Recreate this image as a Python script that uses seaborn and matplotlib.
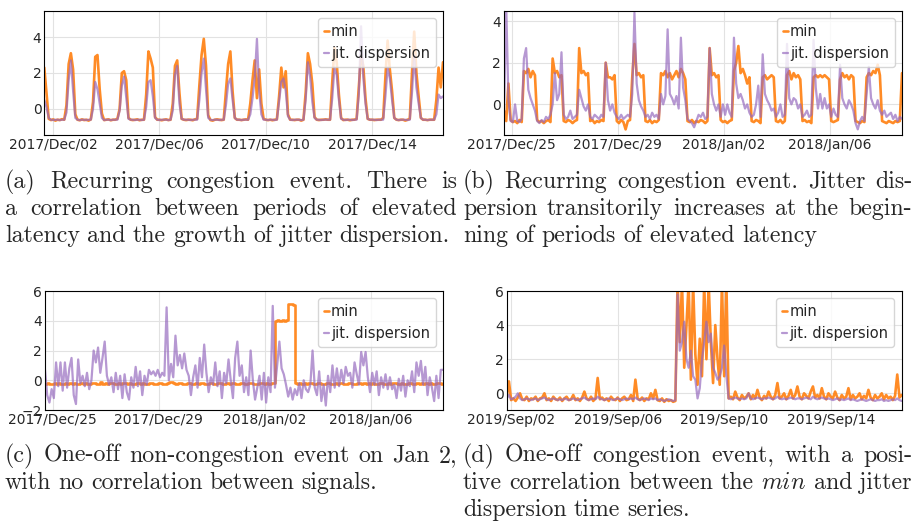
import pandas as pd
import seaborn as sns
import matplotlib.pyplot as plt
import matplotlib.dates as mdates

# values, one sample every 2 hours

# (a) recurring congestion, Dec 2017
a_start = "2017-12-01 16:00"
a_min = [
    2.3, 0.9, -0.55, -0.62, -0.58, -0.65, -0.6, -0.62, -0.57, -0.6, 0.2, 2.5,
    3.1, 2.2, -0.3, -0.6, -0.63, -0.58, -0.62, -0.6, -0.65, -0.58, 0.4, 2.9,
    3.0, 1.1, -0.25, -0.62, -0.6, -0.58, -0.63, -0.6, -0.6, -0.55, 0.0, 2.0,
    2.1, 1.6, -0.5, -0.6, -0.62, -0.6, -0.58, -0.63, -0.6, -0.6, 0.8, 3.2,
    2.8, 2.3, -0.45, -0.6, -0.6, -0.63, -0.6, -0.58, -0.62, -0.6, 0.3, 2.4,
    2.7, 0.9, -0.55, -0.6, -0.62, -0.6, -0.6, -0.63, -0.58, -0.55, 1.3, 3.0,
    3.9, 2.4, -0.35, -0.62, -0.65, -0.6, -0.58, -0.6, -0.62, -0.6, 1.0, 2.5,
    3.2, 1.0, -0.5, -0.6, -0.6, -0.62, -0.6, -0.58, -0.6, 0.3, 1.6, 2.7,
    0.6, 2.2, 0.3, -0.55, -0.6, -0.62, -0.6, -0.63, -0.6, -0.58, 0.7, 2.3,
    1.2, 2.1, -0.3, -0.6, -0.6, -0.62, -0.6, -0.6, -0.65, -0.6, 0.9, 3.1,
    2.5, 1.4, -0.45, -0.6, -0.62, -0.6, -0.6, -0.58, -0.6, -0.6, 1.5, 3.4,
    2.6, 0.8, -0.5, -0.62, -0.6, -0.6, -0.63, -0.6, -0.6, -0.55, 1.2, 3.0,
    2.4, 0.6, -0.55, -0.6, -0.6, -0.62, -0.6, -0.6, -0.6, -0.5, 1.8, 3.8,
    2.2, 1.0, -0.5, -0.6, -0.62, -0.6, -0.6, -0.65, -0.6, -0.55, 2.0, 4.3,
    2.0, 0.7, -0.5, -0.6, -0.6, -0.62, -0.6, -0.6, -0.6, 0.5, 2.3, 1.2,
    2.6,
]
a_jit = [
    0.5, 0.1, -0.5, -0.6, -0.62, -0.6, -0.6, -0.62, -0.6, -0.6, -0.2, 1.6,
    2.7, 1.0, -0.5, -0.6, -0.62, -0.6, -0.6, -0.62, -0.6, -0.6, 0.0, 1.5,
    1.1, 0.3, -0.5, -0.62, -0.6, -0.6, -0.62, -0.6, -0.6, -0.6, -0.1, 1.3,
    1.8, 0.6, -0.55, -0.6, -0.6, -0.62, -0.6, -0.6, -0.62, -0.6, 0.1, 1.5,
    1.6, 0.7, -0.5, -0.6, -0.62, -0.6, -0.6, -0.6, -0.62, -0.6, -0.1, 1.9,
    2.4, 0.3, -0.55, -0.6, -0.6, -0.6, -0.62, -0.6, -0.6, -0.6, 0.5, 2.0,
    2.8, 1.1, -0.5, -0.6, -0.62, -0.6, -0.6, -0.62, -0.6, -0.6, 0.2, 1.4,
    1.7, 0.5, -0.5, -0.6, -0.6, -0.62, -0.6, -0.6, -0.6, -0.3, 0.6, 1.7,
    3.9, 1.0, -0.3, -0.6, -0.6, -0.62, -0.6, -0.6, -0.62, -0.6, 0.4, 1.5,
    1.7, 1.0, -0.4, -0.6, -0.62, -0.6, -0.6, -0.6, -0.62, -0.6, 0.5, 2.6,
    1.8, 0.4, -0.5, -0.6, -0.6, -0.62, -0.6, -0.6, -0.6, -0.6, 0.6, 2.3,
    1.9, 0.5, -0.55, -0.6, -0.62, -0.6, -0.6, -0.62, -0.6, -0.6, 0.8, 4.6,
    1.8, 0.3, -0.55, -0.6, -0.6, -0.6, -0.62, -0.6, -0.6, -0.6, 0.7, 2.3,
    1.7, 0.5, -0.5, -0.6, -0.62, -0.6, -0.6, -0.6, -0.62, -0.6, 0.9, 3.0,
    1.2, 0.3, -0.5, -0.6, -0.6, -0.62, -0.6, -0.6, -0.6, -0.3, 0.8, 0.6,
    0.7,
]
a_ticks = ["2017-12-02", "2017-12-06", "2017-12-10", "2017-12-14"]

# (b) recurring congestion, Dec 2017 / Jan 2018
b_start = "2017-12-24 17:00"
b_min = [
    -0.3, -0.8, 1.0, -0.75, -0.85, -0.8, -0.9, -0.75, -0.85, 1.6, 1.5, 1.7,
    1.3, 1.6, 1.4, -0.75, -0.85, -0.8, -0.9, -0.8, -0.75, -0.85, 2.2, 1.5,
    1.6, 1.3, 1.4, -0.8, -0.85, -0.75, -0.8, -0.9, -0.8, -0.75, 2.7, 1.5,
    1.6, 1.4, 1.5, -0.8, -0.75, -0.9, -0.8, -0.85, -0.75, -0.8, 2.0, 1.3,
    1.3, 1.2, 1.4, -0.8, -0.9, -0.75, -0.85, -1.2, -0.8, -0.75, 1.3, 2.9,
    1.4, 1.5, 1.3, 1.4, -0.8, -0.85, -0.75, -0.9, -0.8, -0.85, -0.75, 1.5,
    1.4, 1.6, 1.3, 1.5, 1.2, 1.4, 1.6, 1.3, 1.7, 1.5, 1.2, -0.8,
    -0.85, -0.75, -0.9, -0.8, -0.85, -0.75, -0.8, -0.9, -0.8, 2.7, 1.4, 1.5,
    1.3, 1.4, -0.75, -0.85, -0.8, -0.9, -0.8, -0.75, 1.6, 2.0, 2.8, 1.5,
    1.7, 1.4, 1.0, 1.3, -0.8, -0.85, -0.75, -0.8, -0.9, 1.3, 1.4, 1.2,
    1.3, 1.4, 1.3, -0.8, -0.85, -0.75, -0.9, -0.8, 1.4, 1.6, 1.2, 1.5,
    1.3, 1.4, 1.2, -0.8, -0.75, -0.85, -0.8, -0.9, 1.3, 1.4, 1.3, 1.4,
    1.3, 1.4, 1.3, 1.2, -0.8, -0.85, -0.8, -0.75, 1.2, 1.5, 1.3, 1.4,
    1.2, 1.4, 1.3, -0.8, -0.85, -0.9, -0.8, -0.85, 1.3, 1.5, 1.4, 1.6,
    1.5, 1.9, 1.4, -0.8, -0.85, -0.9, -0.8, -0.85, -0.9, -0.8, -0.85, -0.8,
    1.5,
]
b_jit = [
    -0.5, 4.8, 0.2, -0.8, -0.85, 0.0, -0.8, -0.85, -0.7, 2.2, 2.7, 0.7,
    0.3, 0.0, -0.3, -0.8, -0.9, -0.75, -0.85, -0.6, -0.7, -0.5, 0.0, 1.5,
    0.2, 0.5, 2.5, -0.5, -0.7, -0.6, -0.3, -0.7, -0.6, -0.5, 0.7, 0.3,
    -0.1, -0.3, 0.0, -0.6, -0.7, -0.5, -0.6, -0.7, -0.5, -0.6, 2.0, 0.2,
    -0.3, 0.0, -0.4, -0.6, -0.7, -0.5, -0.7, -0.6, -0.5, -0.6, 0.5, 4.4,
    1.0, 0.2, -0.1, -0.3, -0.6, -0.5, -0.7, -0.4, -0.6, -0.5, -0.7, 0.5,
    0.0, 0.4, 3.6, 0.5, 0.3, 0.0, 0.4, -0.2, 3.2, 0.8, 0.2, -0.7,
    -0.8, -0.9, -1.1, -0.8, -0.5, -0.6, -0.4, -0.7, -0.6, 2.7, 0.5, 0.0,
    -0.3, 0.0, -0.6, 0.0, -0.5, 0.0, -0.4, -0.6, 3.2, 1.0, 0.3, 0.5,
    0.2, -0.2, 0.0, -0.4, -0.6, -0.5, 0.0, 0.9, -0.6, 2.4, 0.5, 0.2,
    0.0, -0.3, -0.2, -0.6, -0.4, 0.0, -0.6, -0.5, 2.9, 0.3, 0.0, 0.3,
    0.2, -0.2, 0.0, -0.6, -0.5, -0.3, -0.6, -0.5, 3.1, 0.8, -0.2, 0.5,
    -0.2, 0.3, -0.2, 0.0, -0.6, -0.2, -0.5, -0.6, 1.9, 0.3, 0.0, -0.2,
    0.2, 0.0, -0.3, -0.9, -1.2, -0.8, -0.6, -0.8, 0.5, 1.8, 0.3, 0.0,
    -0.2, 0.2, -0.3, -0.5, -0.3, -0.6, -0.5, -0.4, -0.7, -0.5, -0.8, -0.6,
    -0.7,
]
b_ticks = ["2017-12-25", "2017-12-29", "2018-01-02", "2018-01-06"]

# (c) one-off non-congestion event
c_start = "2017-12-24 17:00"
c_min = [
    -0.22, -0.2, -0.24, -0.22, -0.2, -0.23, -0.21, -0.22, -0.24, -0.2, -0.22, -0.21,
    -0.23, -0.2, -0.22, -0.24, -0.21, -0.22, -0.2, -0.23, -0.22, -0.21, -0.2, -0.22,
    -0.24, -0.15, -0.22, -0.2, -0.23, -0.21, -0.2, -0.22, -0.24, -0.21, -0.22, -0.2,
    -0.21, -0.23, -0.2, -0.22, -0.24, -0.2, -0.21, -0.22, -0.2, -0.23, -0.22, -0.21,
    -0.2, -0.22, -0.23, -0.21, -0.2, -0.22, -0.24, -0.21, -0.12, -0.15, -0.2, -0.22,
    -0.21, -0.2, -0.23, -0.22, -0.2, -0.21, -0.24, -0.22, -0.2, -0.23, -0.21, -0.2,
    -0.22, -0.24, -0.2, -0.21, -0.23, -0.22, -0.2, -0.21, -0.22, -0.24, -0.2, -0.22,
    -0.21, -0.2, -0.22, -0.23, -0.21, -0.2, -0.22, -0.24, -0.21, -0.2, -0.22, -0.23,
    -0.22, -0.2, -0.21, -0.23, -0.2, -0.22, -0.21, -0.2, 4.0, 4.05, 3.98, 4.02,
    4.0, 4.05, 5.1, 5.12, 5.08, -0.2, -0.22, -0.21, -0.23, -0.2, -0.22, -0.21,
    -0.2, -0.22, -0.24, -0.21, -0.2, -0.23, -0.22, -0.2, -0.21, -0.22, -0.24, -0.2,
    -0.22, -0.21, -0.2, -0.23, -0.22, -0.2, -0.21, -0.24, -0.22, -0.2, -0.21, -0.22,
    -0.2, -0.23, -0.21, -0.22, -0.2, -0.22, -0.24, -0.21, -0.2, -0.22, -0.23, -0.21,
    -0.22, -0.2, -0.21, -0.23, -0.22, -0.2, -0.24, -0.22, -0.21, -0.2, -0.22, -0.23,
    -0.21, -0.22, -0.2, -0.23, -0.21, -0.22, -0.2, -0.24, -0.22, -0.21, -0.2, -0.22,
    -0.21,
]
c_jit = [
    0.7, -1.0, -1.5, -0.6, -1.2, 1.2, -0.4, 1.2, -0.7, 1.2, -0.5, 0.8,
    1.5, -1.0, -1.6, 1.4, -0.2, 0.3, -0.4, 0.5, -0.6, 0.0, 2.0, 1.2,
    2.2, 0.5, 1.5, 2.6, 0.3, -0.3, 0.2, -0.8, 0.5, -0.6, 0.3, -1.2,
    0.4, -0.8, -1.3, 0.2, -0.5, 0.9, -0.4, 0.6, -1.0, 0.3, -0.3, 0.7,
    0.4, 0.6, 0.3, 0.7, 0.2, 0.5, 0.3, 4.9, 0.0, 1.1, 0.2, 3.0,
    1.0, 1.7, 0.8, 1.8, 0.7, 0.3, -1.0, 0.2, 1.0, -0.5, 1.5, 0.2,
    2.4, 0.5, -0.8, 0.2, -0.3, 1.2, -0.4, 0.6, -1.2, 0.5, -0.2, 1.4,
    0.0, -1.2, 1.5, 2.6, 0.3, 1.0, -0.8, 0.2, -1.0, 2.0, 0.0, -1.3,
    -0.5, 0.3, -1.3, 0.5, -1.5, 0.2, -0.8, 5.0, -0.5, 1.0, 2.6, 0.8,
    0.4, -0.3, -1.1, -0.5, -1.3, -0.6, -1.0, -0.2, -1.2, 0.0, -0.6, -0.8,
    -0.3, 2.0, -0.5, -1.0, 0.6, -1.4, -0.3, -1.7, 0.3, -0.8, 1.0, -0.5,
    0.8, -0.4, 0.7, -0.2, 0.9, 0.3, 0.5, -0.5, 1.2, 0.4, -0.3, 1.9,
    1.0, 1.9, 0.2, -0.8, 0.5, -0.3, 0.6, -1.0, 0.2, -0.5, 0.4, -0.6,
    0.2, -0.6, -0.3, -1.2, 0.1, -0.7, 0.3, -1.1, 0.0, -0.4, 0.6, -0.8,
    1.2, 0.3, 1.3, -0.3, 0.9, -1.0, 0.2, -0.5, -1.4, 0.3, -1.2, 0.7,
    0.7,
]
c_ticks = ["2017-12-25", "2017-12-29", "2018-01-02", "2018-01-06"]

# (d) one-off congestion event, Sep 2019
d_start = "2019-09-01 20:00"
d_min = [
    -0.2, 0.7, -0.4, -0.3, -0.45, -0.25, 0.0, -0.35, -0.4, -0.2, -0.45, -0.3,
    -0.35, -0.2, -0.45, -0.3, -0.25, 0.0, -0.4, -0.3, -0.45, -0.2, -0.35, -0.4,
    -0.25, -0.45, -0.3, -0.2, -0.4, -0.35, -0.1, -0.4, -0.3, -0.45, -0.25, 0.1,
    -0.3, -0.4, -0.2, -0.45, -0.3, 0.9, -0.35, -0.25, -0.4, -0.3, -0.45, -0.2,
    -0.35, -0.4, -0.25, -0.45, -0.3, -0.2, -0.4, -0.35, -0.1, -0.45, 0.8, -0.3,
    -0.4, -0.25, -0.45, -0.3, -0.35, 0.0, -0.3, 0.2, -0.4, -0.45, -0.3, -0.5,
    -0.35, -0.45, -0.4, -0.5, -0.45, 6.5, 3.0, 6.5, 1.5, 4.0, 6.5, 0.8,
    6.5, 2.3, 0.5, 3.2, 1.0, 6.5, 2.0, 6.5, 3.0, 0.6, 4.0, 2.0,
    0.5, 6.5, 1.0, 6.5, -0.3, -0.2, -0.35, 0.1, -0.25, -0.4, -0.1, -0.3,
    -0.2, 0.0, -0.35, -0.1, -0.3, 0.2, -0.25, -0.4, -0.15, -0.3, 0.1, -0.2,
    -0.35, -0.1, 0.6, -0.3, -0.2, 0.0, -0.35, -0.15, 0.2, -0.3, -0.1, 0.4,
    -0.2, -0.35, 0.0, -0.15, -0.3, 0.1, 0.4, -0.25, -0.1, -0.3, 0.3, -0.2,
    -0.35, 0.0, -0.2, -0.3, 0.1, -0.25, -0.4, -0.1, -0.3, -0.2, 0.3, -0.35,
    -0.1, -0.3, -0.2, 0.0, -0.35, -0.15, -0.3, 0.2, -0.25, -0.4, -0.1, -0.3,
    -0.2, 0.0, -0.35, -0.1, -0.3, -0.2, -0.4, -0.15, 1.1, -0.25, -0.1,
]
d_jit = [
    -0.3, -0.1, -0.35, -0.3, -0.2, 0.0, -0.3, -0.4, -0.35, -0.3, -0.35, -0.4,
    -0.35, -0.3, -0.4, -0.35, -0.3, -0.25, -0.35, -0.4, -0.35, -0.3, -0.35, -0.4,
    -0.35, -0.4, -0.3, -0.35, -0.4, -0.35, -0.3, -0.35, -0.4, -0.35, -0.3, -0.25,
    -0.35, -0.4, -0.35, -0.3, -0.35, -0.2, -0.3, -0.35, -0.4, -0.35, -0.3, -0.35,
    -0.4, -0.35, -0.3, -0.35, -0.4, -0.35, -0.3, -0.35, -0.3, -0.35, -0.25, -0.35,
    -0.4, -0.35, -0.3, -0.35, -0.4, -0.3, -0.35, -0.3, -0.4, -0.35, -0.4, -0.45,
    -0.4, -0.35, -0.4, -0.45, -0.4, 5.8, 2.5, 3.0, 4.2, 2.0, 1.5, 2.5,
    1.0, 0.8, -0.3, 0.3, 2.0, 3.0, 4.2, 3.0, 3.5, 1.5, 1.2, 0.8,
    1.0, 1.5, 2.8, 1.0, -0.3, -0.35, -0.3, -0.25, -0.3, -0.35, -0.3, -0.35,
    -0.3, 0.0, -0.3, -0.35, -0.3, -0.25, -0.3, -0.35, -0.3, -0.3, -0.25, -0.3,
    -0.35, -0.3, -0.2, -0.3, -0.35, -0.3, -0.35, -0.3, -0.25, -0.3, -0.35, -0.3,
    -0.3, -0.35, -0.3, -0.25, -0.3, -0.35, -0.2, -0.3, -0.35, -0.3, -0.25, -0.3,
    -0.35, -0.3, -0.35, -0.4, -0.35, -0.3, -0.4, -0.35, -0.4, -0.35, -0.3, -0.4,
    -0.35, -0.4, -0.45, -0.4, -0.35, -0.4, -0.45, -0.4, -0.35, -0.4, -0.45, -0.4,
    -0.4, -0.35, -0.45, -0.4, -0.45, -0.4, -0.35, -0.4, -0.3, -0.4, -0.45,
]
d_ticks = ["2019-09-02", "2019-09-06", "2019-09-10", "2019-09-14"]

captions = {
    "a": ["(a) Recurring congestion event. There is",
          "a correlation between periods of elevated",
          "latency and the growth of jitter dispersion."],
    "b": ["(b) Recurring congestion event. Jitter dis-",
          "persion transitorily increases at the begin-",
          "ning of periods of elevated latency"],
    "c": ["(c) One-off non-congestion event on Jan 2,",
          "with no correlation between signals."],
    "d": ["(d) One-off congestion event, with a posi-",
          "tive correlation between the $min$ and jitter",
          "dispersion time series."],
}

W, H = 915, 523
ORANGE = "#ff7f0e"
PURPLE = "#9467bd"

sns.set_style("whitegrid", {"axes.edgecolor": "black", "grid.color": "#e2e2e2",
                            "axes.linewidth": 1.0})
plt.rcParams["font.family"] = ["DejaVu Sans"]
plt.rcParams["mathtext.fontset"] = "cm"

fig = plt.figure(figsize=(W / 100, H / 100), dpi=100)


def panel(rect, start, mins, jits, ticks, ylim, step=False):
    ax = fig.add_axes(rect)
    t_min = pd.date_range(start, periods=len(mins), freq="2h")
    t_jit = pd.date_range(start, periods=len(jits), freq="2h")
    kw = {"drawstyle": "steps-post"} if step else {}
    sns.lineplot(x=t_min, y=mins, ax=ax, color=ORANGE, lw=1.9, alpha=0.9,
                 label="min", estimator=None, **kw)
    sns.lineplot(x=t_jit, y=jits, ax=ax, color=PURPLE, lw=1.6, alpha=0.68,
                 label="jit. dispersion", estimator=None)
    ax.set_xlim(t_min[0], t_min[-1])
    ax.set_ylim(*ylim)
    ax.set_xticks(pd.to_datetime(ticks))
    ax.xaxis.set_major_formatter(mdates.DateFormatter("%Y/%b/%d"))
    ax.tick_params(labelsize=10, pad=2, length=0)
    ax.set_xlabel("")
    ax.set_ylabel("")
    ax.legend(loc="upper right", fontsize=10.5, handlelength=0.35,
              handletextpad=0.15, framealpha=0.8)
    return ax


def px_rect(left, top, right, bottom):
    return [left / W, 1 - bottom / H, (right - left) / W, (bottom - top) / H]


panel(px_rect(44.3, 11, 443, 135), a_start, a_min, a_jit, a_ticks, (-1.45, 5.45))
panel(px_rect(504, 11, 902, 135), b_start, b_min, b_jit, b_ticks, (-1.47, 4.48))
ax_c = panel(px_rect(45, 291, 443, 410), c_start, c_min, c_jit, c_ticks, (-2, 6), step=True)
ax_c.set_yticks([-2, 0, 2, 4, 6])
ax_d = panel(px_rect(506.7, 291, 901.7, 410), d_start, d_min, d_jit, d_ticks, (-0.98, 6))
ax_d.set_yticks([0, 2, 4, 6])

# justified captions below each panel
renderer = fig.canvas.get_renderer()


def caption(lines, x0, x1, base, fs=17.2, lh=27):
    for k, line in enumerate(lines):
        y = 1 - (base + k * lh) / H
        words = line.split(" ")
        texts = [fig.text(0, y, w, fontsize=fs, family="cmr10", va="baseline")
                 for w in words]
        widths = [t.get_window_extent(renderer).width for t in texts]
        if k == len(lines) - 1:
            gap = fs * 0.3 * 100 / 72
        else:
            gap = (x1 - x0 - sum(widths)) / (len(words) - 1)
        x = x0
        for t, w in zip(texts, widths):
            t.set_x(x / W)
            x += w + gap


caption(captions["a"], 5, 457, 188)
caption(captions["b"], 463, 912, 188)
caption(captions["c"], 5, 457, 462)
caption(captions["d"], 463, 912, 462)

fig.savefig("out.png", dpi=100)
